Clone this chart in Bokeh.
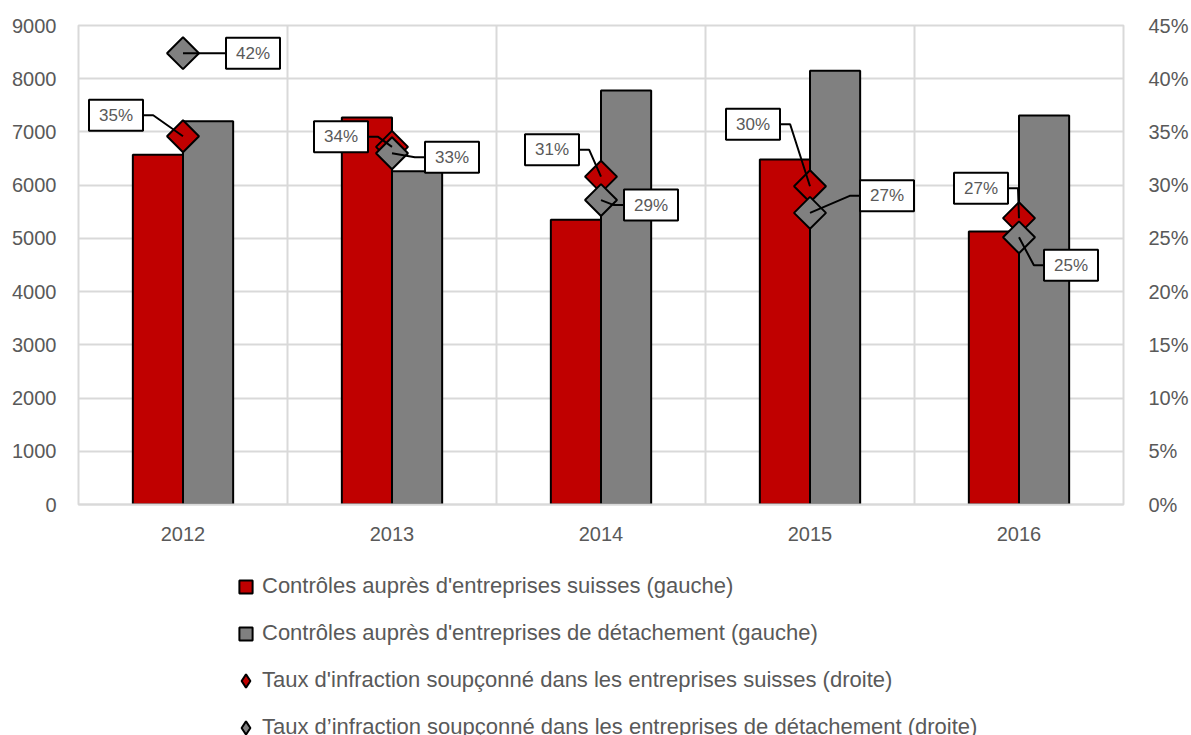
import math
from bokeh.plotting import figure
from bokeh.layouts import column
from bokeh.models import (Range1d, LinearAxis, FixedTicker, PrintfTickFormatter,
                          Legend, LegendItem)
from bokeh.core.properties import value
from bokeh.embed import file_html
from bokeh.resources import INLINE

# ---------------- data ----------------
years = ["2012", "2013", "2014", "2015", "2016"]
controls_swiss = [6570, 7270, 5350, 6480, 5130]        # left axis
controls_posted = [7200, 6260, 7780, 8150, 7310]       # left axis
rate_swiss = [34.6, 33.6, 30.8, 29.9, 26.9]            # right axis, %
rate_posted = [42.4, 33.0, 28.6, 27.4, 25.1]           # right axis, %
left_ticks = [0, 1000, 2000, 3000, 4000, 5000, 6000, 7000, 8000, 9000]
right_ticks = [0, 5, 10, 15, 20, 25, 30, 35, 40, 45]
legend_labels = [
    "Contrôles auprès d'entreprises suisses (gauche)",
    "Contrôles auprès d'entreprises de détachement (gauche)",
    "Taux d'infraction soupçonné dans les entreprises suisses (droite)",
    "Taux d’infraction soupçonné dans les entreprises de détachement (droite)",
]

# ---------------- layout / style ----------------
FONT = "Liberation Sans"
RED = "#c00000"
GRAY = "#808080"
TXT = "#595959"
GRID = "#d9d9d9"
W = 1191
H_MAIN, H_LEG = 560, 175
FL, FR, FT, FB = 78, 61, 25, 56
FW, FH = W - FL - FR, H_MAIN - FT - FB
X0, X1 = -0.5, len(years) - 0.5
BAR_W = 0.24
# label box offsets (pixels, y up) relative to each diamond
swiss_label_off = [(-67, 21), (-51, 10), (-49, 27), (-57, 62), (-38, 30)]
posted_label_off = [(70, 0), (60, -4), (50, -5), (77, 17), (52, -28)]
BOX_HALF = 26
ELBOW = 11

xs = list(range(len(years)))

p = figure(width=W, height=H_MAIN, output_backend="svg", toolbar_location=None,
           x_range=Range1d(X0, X1), y_range=Range1d(0, 9000),
           min_border_left=FL, min_border_right=FR, min_border_top=FT,
           min_border_bottom=FB, background_fill_color="white",
           border_fill_color="white", outline_line_color=GRID,
           outline_line_width=2)
p.extra_y_ranges = {"right": Range1d(0, 45)}

# axes
p.xaxis.ticker = FixedTicker(ticks=xs)
p.xaxis.major_label_overrides = {i: y for i, y in enumerate(years)}
p.yaxis.ticker = FixedTicker(ticks=left_ticks)
raxis = LinearAxis(y_range_name="right", ticker=FixedTicker(ticks=right_ticks),
                   formatter=PrintfTickFormatter(format="%d%%"))
p.add_layout(raxis, "right")
for ax in [p.xaxis[0], p.yaxis[0], raxis]:
    ax.major_tick_line_color = None
    ax.minor_tick_line_color = None
    ax.major_label_text_font = FONT
    ax.major_label_text_font_size = "20px"
    ax.major_label_text_color = TXT
p.yaxis[0].axis_line_color = None
raxis.axis_line_color = None
p.xaxis.axis_line_color = GRID
p.xaxis.axis_line_width = 2
p.xaxis.major_label_standoff = 16
p.yaxis[0].major_label_standoff = 16
raxis.major_label_standoff = 19

# grids
p.ygrid.ticker = FixedTicker(ticks=left_ticks)
p.ygrid.grid_line_color = GRID
p.ygrid.grid_line_width = 2
p.xgrid.ticker = FixedTicker(ticks=[i + 0.5 for i in xs])
p.xgrid.grid_line_color = GRID
p.xgrid.grid_line_width = 2

# bars
p.vbar(x=[i - BAR_W / 2 for i in xs], top=controls_swiss, width=BAR_W,
       fill_color=RED, line_color="black", line_width=2)
p.vbar(x=[i + BAR_W / 2 for i in xs], top=controls_posted, width=BAR_W,
       fill_color=GRAY, line_color="black", line_width=2)

# diamonds
p.scatter(x=xs, y=rate_swiss, y_range_name="right", marker="square",
          angle=math.pi / 4, size=22.6, fill_color=RED, line_color="black",
          line_width=2)
p.scatter(x=xs, y=rate_posted, y_range_name="right", marker="square",
          angle=math.pi / 4, size=22.6, fill_color=GRAY, line_color="black",
          line_width=2)

# leader lines + labels
ux = (X1 - X0) / FW
uy = 45.0 / FH


def pct(v):
    return "%d%%" % math.floor(v + 0.5)


lx, ly = [], []
tx, ty, tt, tox, toy = [], [], [], [], []
for rates, offs in [(rate_swiss, swiss_label_off), (rate_posted, posted_label_off)]:
    for i, (v, (dx, dy)) in enumerate(zip(rates, offs)):
        sgn = 1 if dx > 0 else -1
        end = dx - sgn * BOX_HALF
        elbow = end - sgn * ELBOW
        lx.append([i, i + elbow * ux, i + end * ux])
        ly.append([v, v + dy * uy, v + dy * uy])
        tx.append(i)
        ty.append(v)
        tt.append(pct(v))
        tox.append(dx)
        toy.append(-dy)

p.multi_line(xs=lx, ys=ly, y_range_name="right", line_color="black",
             line_width=2)
p.text(x=tx, y=ty, text=tt, x_offset=tox, y_offset=toy, y_range_name="right",
       text_align="center", text_baseline="middle", text_font=value(FONT),
       text_font_size="17px", text_color=TXT, background_fill_color="white",
       border_line_color="black", border_line_width=2, padding=(10, 6))

# ---------------- legend panel ----------------
leg = figure(width=W, height=H_LEG, output_backend="svg", toolbar_location=None,
             x_range=Range1d(X0, X1), y_range=Range1d(0, 9000),
             x_axis_location=None, y_axis_location=None,
             min_border=0, outline_line_color=None,
             background_fill_color="white", border_fill_color="white")
leg.grid.visible = False
series = [(controls_swiss, "square", RED), (controls_posted, "square", GRAY),
          ([v * 200 for v in rate_swiss], "diamond", RED),
          ([v * 200 for v in rate_posted], "diamond", GRAY)]
items = []
for lab, (vals, mk, col) in zip(legend_labels, series):
    r = leg.scatter(x=xs, y=vals, marker=mk, size=10, fill_color=col,
                    line_color="black", line_width=2, visible=False)
    items.append(LegendItem(label=lab, renderers=[r]))
legend = Legend(items=items, location=(151, -8.5), orientation="vertical",
                glyph_width=33, glyph_height=33, label_standoff=0, spacing=14,
                padding=0, margin=0, border_line_color=None,
                background_fill_alpha=0, label_text_font=FONT,
                label_text_font_size="22px", label_text_color=TXT,
                label_height=33, inactive_fill_alpha=0)
leg.add_layout(legend, "center")

layout = column(p, leg, spacing=0)
open("out.html", "w").write(file_html(layout, INLINE))
